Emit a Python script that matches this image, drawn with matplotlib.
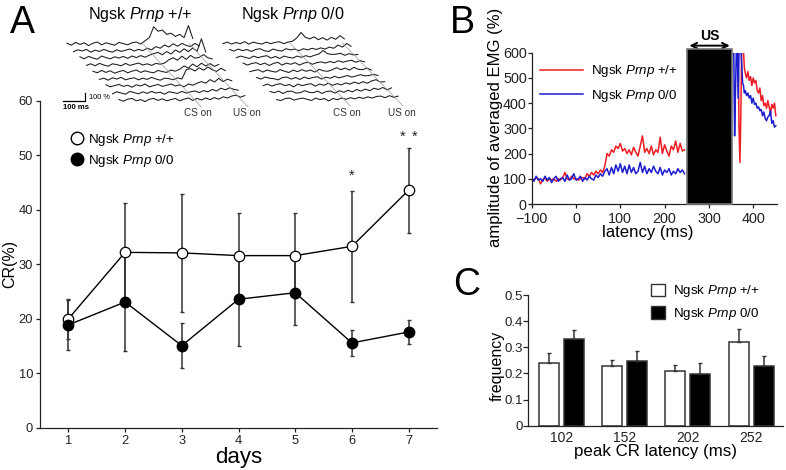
import numpy as np
import matplotlib
matplotlib.use('Agg')
import matplotlib.pyplot as plt
from matplotlib.lines import Line2D
from matplotlib.patches import Patch, Rectangle

plt.rcParams['font.family'] = ['Liberation Sans', 'DejaVu Sans']
plt.rcParams['mathtext.fontset'] = 'custom'
plt.rcParams['mathtext.rm'] = 'Liberation Sans'
plt.rcParams['mathtext.it'] = 'Liberation Sans:italic'

# ---------------- data ----------------
LBL_WT = 'Ngsk $\\mathit{Prnp}$ +/+'
LBL_KO = 'Ngsk $\\mathit{Prnp}$ 0/0'

# Panel A: CR(%) per training day
days = [1, 2, 3, 4, 5, 6, 7]
wt_cr = [20.0, 32.2, 32.1, 31.6, 31.6, 33.3, 43.6]
wt_cr_err = [3.6, 9.0, 10.8, 7.9, 7.8, 10.2, 7.8]
ko_cr = [18.9, 23.1, 15.1, 23.6, 24.8, 15.6, 17.6]
ko_cr_err = [4.6, 8.9, 4.1, 8.5, 6.0, 2.4, 2.2]
star_days = [6, 6.89, 7.11]
star_y = [46.2, 53.4, 53.4]

# Panel A inset: example EMG traces (% of baseline, 20 ms steps)
trace_step_ms = 20
wt_traces = [
    [10, -15, 20, -5, 15, -20, 10, 25, -10, 15, 0, -15, 20, 5, -10, 15, 25, 0, 40, 80, 215, 160, 175, 120, 135, 95, 120, 80, 230, 70],
    [-10, 15, 0, 20, -15, 10, -5, 20, 0, -15, 15, -5, 10, 25, 0, 20, 5, 35, 15, 55, 35, 75, 50, 90, 60, 95, 70, 55, 95, 65],
    [15, -10, 20, 0, -15, 25, 5, -10, 15, 0, 20, -5, 25, 5, 30, 10, 35, 55, 70, 40, 80, 50, 100, 70, 115, 80, 125, 85, 240, 75],
    [-5, 15, -10, 20, 0, -15, 15, 5, -10, 20, -5, 10, 25, 0, 15, -5, 20, 10, 25, 65, 90, 60, 110, 70, 120, 85, 95, 130, 90, 75],
    [10, -10, 20, -5, 15, -15, 5, 20, -10, 10, 25, -5, 15, 0, -10, 20, 5, -5, 25, 10, 35, 75, 50, 100, 65, 110, 75, 105, 70, 95],
    [-5, 10, -15, 15, 0, 20, -10, 5, 15, -10, 10, -5, 20, 0, -15, 10, 5, -10, 15, 0, 115, 130, 100, 140, 110, 150, 115, 95, 135, 105],
    [15, -10, 5, 20, -5, 10, -15, 15, 0, 25, -10, 5, 20, -5, 10, 25, 0, 15, -10, 25, 10, 35, 55, 35, 80, 50, 95, 55, 85, 65],
    [-10, 15, 0, -15, 20, 5, -10, 15, -5, 20, 0, 10, -15, 15, 5, -5, 20, 0, 15, 25, 5, 30, 15, 45, 25, 60, 40, 65, 45, 35],
    [5, -15, 10, 20, -10, 5, -20, 10, 20, -5, 15, -10, 5, 20, -10, 10, 25, -5, 20, 0, 25, 5, 30, 10, 40, 25, 50, 60, 35, 55],
]
ko_traces = [
    [-5, 15, -10, 10, -5, 20, -10, 15, 0, -10, 15, -5, 10, 20, -5, 15, 25, 65, 135, 75, 55, 80, 45, 70, 40, 75, 50, 95, 55],
    [10, -10, 15, -5, 10, -15, 10, 20, -5, -15, 15, 0, -10, 20, 5, 15, -5, 20, 5, 25, 10, 30, 15, 40, 25, 65, 40, 85, 50],
    [-5, 15, 0, -15, 15, -5, 10, 20, -10, 10, -15, 15, 0, -10, 15, 0, 20, 5, 25, 40, 85, 45, 35, 40, 50, 25, 45, 30, 35],
    [15, -10, 10, 20, -5, 15, -15, 10, 25, -10, 15, 0, 20, -10, 15, 25, 0, 20, 30, 15, 35, 20, 45, 25, 40, 50, 25, 45, 30],
    [-5, 10, 20, -10, 15, 0, -10, 20, 0, -15, 15, -5, 20, 0, 15, -10, 25, 5, 0, 20, 45, 20, 40, 15, 50, 25, 20, 40, 15],
    [10, -10, 15, 0, -5, -20, 10, 15, -10, 10, -15, 15, -5, 10, 20, -10, 15, 0, 25, 5, 20, 35, 15, 30, 45, 30, 35, 50, 35],
    [-5, 15, -10, 10, 20, -5, 10, -20, 15, -5, 10, 20, -10, 15, 0, 25, 0, 20, 5, 30, 15, 40, 20, 45, 25, 55, 70, 40, 45],
    [10, -5, 15, -15, 10, 15, -10, -5, 20, 0, -5, 15, -15, 10, 15, -10, 20, 0, 25, 5, 35, 15, 40, 20, 50, 35, 60, 30, 55],
    [-5, -15, 10, 15, -10, 5, 15, 0, -15, 15, -5, 10, -20, 10, -5, 15, 0, 20, 5, 25, 10, 30, 15, 35, 40, 20, 45, 25, 40],
]
wt_cs_ms, wt_us_ms = 350, 565
ko_cs_ms, ko_us_ms = 310, 553

# Panel B: averaged EMG (%)
emg_pre_t = list(range(-100, 250, 5))
emg_wt_pre = [100, 95, 105, 100, 80, 95, 105, 90, 100, 95, 100, 90, 100, 95, 105, 125, 100, 95, 110, 100,
              100, 95, 100, 105, 100, 120, 110, 125, 115, 130, 120, 135, 125, 150, 200, 190, 215, 205, 230, 220,
              240, 210, 220, 200, 215, 195, 225, 205, 190, 230, 270, 205, 220, 200, 230, 195, 215, 205, 265, 200,
              235, 210, 190, 230, 215, 250, 205, 240, 210, 215]
emg_ko_pre = [105, 90, 110, 95, 100, 90, 110, 95, 105, 85, 100, 110, 90, 100, 105, 90, 115, 95, 100, 120,
              95, 100, 110, 90, 105, 95, 110, 100, 95, 115, 105, 120, 110, 130, 140, 115, 145, 120, 155, 130,
              160, 125, 150, 120, 155, 125, 145, 120, 130, 165, 125, 150, 120, 140, 125, 150, 130, 120, 145, 115,
              135, 125, 140, 115, 130, 120, 140, 125, 135, 120]
emg_post_t = [354, 356, 358, 360, 362, 364, 366, 368, 370, 372, 374, 376, 378, 380, 382, 385, 388, 391, 394,
              397, 400, 403, 406, 409, 412, 415, 418, 421, 424, 427, 430, 433, 436, 439, 442, 445, 448, 451]
emg_wt_post = [600, 620, 600, 620, 620, 560, 600, 300, 165, 350, 620, 620, 610, 540, 520, 500, 525, 490, 505,
               470, 500, 480, 490, 450, 440, 460, 410, 430, 390, 400, 380, 410, 385, 360, 395, 380, 400, 350]
emg_ko_post = [600, 620, 270, 450, 620, 620, 420, 600, 620, 620, 560, 480, 470, 440, 450, 430, 440, 420, 430,
               400, 420, 395, 400, 380, 385, 370, 375, 350, 365, 340, 330, 345, 350, 370, 320, 330, 305, 310]
us_on_ms, us_off_ms = 251, 353

# Panel C: peak CR latency distribution
latency_bins = ['102', '152', '202', '252']
wt_freq = [0.241, 0.230, 0.209, 0.320]
wt_freq_err = [0.036, 0.021, 0.024, 0.050]
ko_freq = [0.330, 0.246, 0.199, 0.228]
ko_freq_err = [0.036, 0.038, 0.042, 0.040]

# ---------------- figure ----------------
W, H = 786, 470
fig = plt.figure(figsize=(W / 100, H / 100), dpi=100)
SP = '#222222'


def px_axes(l, t, r, b, **kw):
    return fig.add_axes([l / W, 1 - b / H, (r - l) / W, (b - t) / H], **kw)


def style(ax):
    for s in ('top', 'right'):
        ax.spines[s].set_visible(False)
    for s in ('left', 'bottom'):
        ax.spines[s].set_color(SP)
        ax.spines[s].set_linewidth(0.9)
    ax.tick_params(colors=SP, width=0.9, length=3, direction='out', pad=2)


# ---- Panel A main ----
axA = px_axes(40, 100.7, 437, 428)
style(axA)
axA.set_xlim(0.5, 7.5)
axA.set_ylim(0, 60)
axA.set_yticks(range(0, 61, 10))
axA.set_xticks(days)
axA.tick_params(labelsize=9.3)
axA.errorbar(days, wt_cr, yerr=wt_cr_err, fmt='none', ecolor='#333333', elinewidth=1.1, capsize=1.2, zorder=2)
axA.errorbar(days, ko_cr, yerr=ko_cr_err, fmt='none', ecolor='#333333', elinewidth=1.1, capsize=1.2, zorder=2)
axA.plot(days, wt_cr, '-', color='black', lw=1.0, zorder=3)
axA.plot(days, ko_cr, '-', color='black', lw=1.0, zorder=3)
axA.plot(days, wt_cr, 'o', mfc='white', mec='black', mew=0.9, ms=7.5, zorder=4)
axA.plot(days, ko_cr, 'o', mfc='black', mec='black', ms=7.5, zorder=5)
for d, y in zip(star_days, star_y):
    axA.text(d, y, '*', ha='center', va='center', fontsize=10.5, color='#222222')
axA.set_ylabel('CR(%)', fontsize=11.5)
axA.yaxis.set_label_coords(-0.057, 0.5)
axA.set_xlabel('days', fontsize=16)
axA.xaxis.set_label_coords(0.5, -0.058)
hA = [Line2D([], [], ls='none', marker='o', mfc='white', mec='black', ms=9),
      Line2D([], [], ls='none', marker='o', mfc='black', mec='black', ms=9)]
axA.legend(hA, [LBL_WT, LBL_KO], loc='upper left', bbox_to_anchor=(0.078, 0.905), frameon=False,
           fontsize=9.6, handlelength=0.9, handletextpad=0.4, labelspacing=0.4, borderpad=0, borderaxespad=0)

# ---- Panel A inset traces ----
MS_PER_PX, PCT_PER_PX = 4.61, 12.5
axT = px_axes(55, 22, 415, 122)
axT.set_xlim(0, 360 * MS_PER_PX)
axT.set_ylim(0, 100 * PCT_PER_PX)
axT.axis('off')
axT.patch.set_alpha(0)


def draw_group(traces, t0, dt, base0, dbase, cs, us):
    for k, tr in enumerate(traces):
        x = t0 + k * dt + np.arange(len(tr)) * trace_step_ms
        axT.plot(x, base0 - k * dbase + np.array(tr), color='#1a1a1a', lw=0.75)
    kk = np.array([-0.05, 8.95])
    for ev, lab_dx in ((cs, -14), (us, -5)):
        xs = t0 + ev + kk * dt
        ys = base0 - kk * dbase
        axT.plot(xs, ys, color='#9a9a9a', lw=0.5)
        axT.text(xs[-1] + lab_dx, 112, 'CS on' if ev == cs else 'US on', ha='center', va='center',
                 fontsize=7.2, color='#333333')


draw_group(wt_traces, 55, 30, 975, 87.5, wt_cs_ms, wt_us_ms)
draw_group(ko_traces, 774, 31, 984, 87.5, ko_cs_ms, ko_us_ms)
# scale bar 100 ms / 100 %
axT.plot([38, 138, 138], [266, 266, 366], color='black', lw=0.9)
axT.text(157, 312, '100 %', fontsize=5.3, va='center', ha='left')
axT.text(35, 187, '100 ms', fontsize=5.6, va='center', ha='left', fontweight='bold')
fig.text(140 / W, 1 - 14 / H, LBL_WT, ha='center', va='center', fontsize=11.6)
fig.text(293 / W, 1 - 15 / H, LBL_KO, ha='center', va='center', fontsize=11.6)

# ---- Panel B ----
axB = px_axes(531.7, 52.7, 776.7, 204)
style(axB)
axB.set_xlim(-100, 453)
axB.set_ylim(0, 600)
axB.set_xticks(range(-100, 401, 100))
axB.set_yticks(range(0, 601, 100))
axB.tick_params(labelsize=10.4)
axB.tick_params(axis='y', pad=0.5)
axB.tick_params(axis='x', pad=3.0)
RED, BLUE = '#ee1d23', '#1c1ccf'
axB.plot(emg_pre_t, emg_wt_pre, color=RED, lw=1.1)
axB.plot(emg_pre_t, emg_ko_pre, color=BLUE, lw=1.1)
axB.plot(emg_post_t, emg_wt_post, color=RED, lw=1.1)
axB.plot(emg_post_t, emg_ko_post, color=BLUE, lw=1.1)
axB.add_patch(Rectangle((us_on_ms, 0), us_off_ms - us_on_ms, 613, facecolor='black', edgecolor='#777777',
                        lw=1.2, clip_on=False, zorder=5))
axB.annotate('', xy=(us_on_ms + 5, 628), xytext=(us_off_ms - 6, 628),
             arrowprops=dict(arrowstyle='<->', lw=1.4, color='black', shrinkA=0, shrinkB=0),
             annotation_clip=False)
axB.text((us_on_ms + us_off_ms) / 2, 668, 'US', ha='center', va='center', fontsize=10, fontweight='bold')
axB.set_ylabel('amplitude of averaged EMG (%)', fontsize=12)
axB.yaxis.set_label_coords(-0.119, 0.506)
axB.set_xlabel('latency (ms)', fontsize=12.1)
axB.xaxis.set_label_coords(0.473, -0.14)
hB = [Line2D([], [], color=RED, lw=1.1), Line2D([], [], color=BLUE, lw=1.1)]
axB.legend(hB, [LBL_WT, LBL_KO], loc='upper left', bbox_to_anchor=(0.034, 0.93), frameon=False,
           fontsize=9.6, handlelength=3.2, handletextpad=0.6, labelspacing=0.65, borderpad=0, borderaxespad=0)

# ---- Panel C ----
axC = px_axes(528.3, 295, 783.3, 425.7)
style(axC)
xc = np.arange(len(latency_bins))
bw, off = 0.317, 0.198
axC.bar(xc - off, wt_freq, bw, color='white', edgecolor='#333333', lw=1.1,
        yerr=[np.zeros(4), wt_freq_err], error_kw=dict(ecolor='#333333', elinewidth=1.1, capsize=1.2))
axC.bar(xc + off, ko_freq, bw, color='black', edgecolor='#333333', lw=1.1,
        yerr=[np.zeros(4), ko_freq_err], error_kw=dict(ecolor='#333333', elinewidth=1.1, capsize=1.2))
axC.set_xlim(-0.53, 3.51)
axC.set_ylim(0, 0.5)
axC.set_xticks(xc, latency_bins)
axC.set_yticks([0, 0.1, 0.2, 0.3, 0.4, 0.5], ['0', '0.1', '0.2', '0.3', '0.4', '0.5'])
axC.tick_params(axis='y', labelsize=9.5, length=3.5, pad=0.5)
axC.tick_params(axis='x', labelsize=10, length=0, pad=4)
axC.set_ylabel('frequency', fontsize=11.5)
axC.yaxis.set_label_coords(-0.093, 0.46)
axC.set_xlabel('peak CR latency (ms)', fontsize=12.2)
axC.xaxis.set_label_coords(0.497, -0.14)
hC = [Patch(facecolor='white', edgecolor='#333333', lw=1.0), Patch(facecolor='black', edgecolor='#333333')]
axC.legend(hC, [LBL_WT, LBL_KO], loc='upper left', bbox_to_anchor=(0.481, 1.09), frameon=False,
           fontsize=9.6, handlelength=1.05, handleheight=1.05, handletextpad=0.6, labelspacing=0.5,
           borderpad=0, borderaxespad=0)

# panel letters
fig.text(10 / W, 1 - 33 / H, 'A', fontsize=27, va='baseline', ha='left')
fig.text(450 / W, 1 - 33 / H, 'B', fontsize=27, va='baseline', ha='left')
fig.text(453 / W, 1 - 295 / H, 'C', fontsize=27, va='baseline', ha='left')

fig.savefig('out.png', dpi=100)
